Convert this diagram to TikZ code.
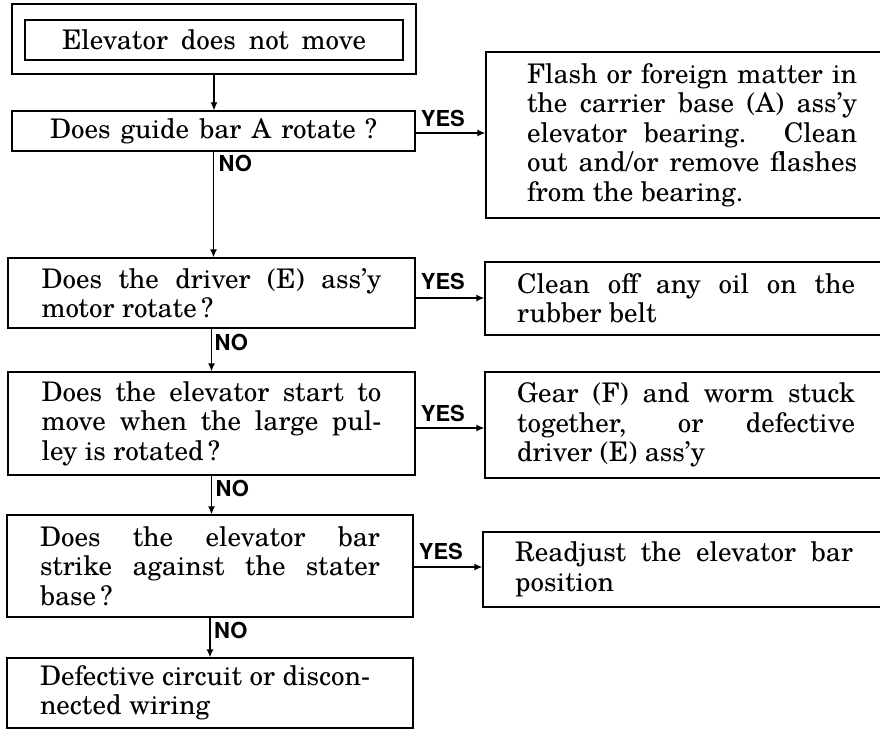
\documentclass[tikz,border=0pt]{standalone}
\usepackage{fontspec}
\setmainfont{TeX Gyre Schola}
\newfontfamily\labfont{TeX Gyre Heros}
\usetikzlibrary{arrows.meta}
\tikzset{
  box/.style={draw, line width=1.3pt, inner sep=0pt, font=\fontsize{27}{29.5}\selectfont},
  jbox/.style={box, align=justify},
  lab/.style={font=\labfont\bfseries\fontsize{22}{22}\selectfont, inner sep=0pt},
  conn/.style={line width=1.3pt, -{Latex[length=8pt,width=7pt]}},
}
\begin{document}
\begin{tikzpicture}[x=1pt,y=-1pt]
\useasboundingbox (0,0) rectangle (880,730);
\clip (0,0) rectangle (880,730);
% left column
\node[box, minimum width=404pt, minimum height=70pt] (frame) at (214,39) {};
\node[box, minimum width=378pt, minimum height=40pt] (start) at (214,40) {\makebox[304pt][s]{Elevator does not move}};
\node[box, minimum width=403pt, minimum height=40pt] (q1) at (213.5,131) {\makebox[327pt][s]{Does guide bar A rotate\,\,?}};
\node[jbox, minimum width=407pt, minimum height=70pt, text width=340pt] (q2) at (211.5,293)
  {Does the driver (E) ass’y\linebreak motor rotate\,?};
\node[jbox, minimum width=407pt, minimum height=103pt, text width=340pt] (q3) at (211.5,423.5)
  {Does the elevator start to\linebreak move when the large pul-\linebreak ley is rotated\,?};
\node[jbox, minimum width=406pt, minimum height=102pt, text width=340pt] (q4) at (210,566)
  {Does the elevator bar\linebreak strike against the stater\linebreak base\,?};
\node[jbox, minimum width=406pt, minimum height=70pt, text width=340pt] (end) at (210,693)
  {Defective circuit or discon-\\nected wiring};
% right column
\node[jbox, minimum width=412pt, minimum height=166pt, text width=330pt] (r1) at (692,135)
  {Flash or foreign matter in\linebreak the carrier base (A) ass’y\linebreak elevator bearing. Clean\linebreak out and/or remove flashes\linebreak from the bearing.};
\node[jbox, minimum width=402pt, minimum height=73pt, text width=338pt] (r2) at (686,298.5)
  {Clean off any oil on the\linebreak rubber belt};
\node[jbox, minimum width=402pt, minimum height=106pt, text width=338pt] (r3) at (686,425)
  {Gear (F) and worm stuck\linebreak together, or defective\linebreak driver (E) ass’y};
\node[jbox, minimum width=402pt, minimum height=75pt, text width=338pt] (r4) at (684,569.5)
  {Readjust the elevator bar\linebreak position};
% NO connectors
\draw[conn] (frame.south) -- (frame.south |- q1.north);
\draw[conn] (q1.south) -- (q1.south |- q2.north);
\draw[conn] (q2.south) -- (q2.south |- q3.north);
\draw[conn] (q3.south) -- (q3.south |- q4.north);
\draw[conn] (q4.south) -- (q4.south |- end.north);
\node[lab, anchor=north west] (n1) at ([xshift=5pt,yshift=-3pt]q1.south) {NO};
\node[lab, anchor=north west] (n2) at ([xshift=3pt,yshift=-5pt]q2.south) {NO};
\node[lab, anchor=north west] (n3) at ([xshift=4pt,yshift=-4pt]q3.south) {NO};
\node[lab, anchor=north west] (n4) at ([xshift=4pt,yshift=-4pt]q4.south) {NO};
% YES connectors
\coordinate (a1) at ([yshift=-2pt]q1.east);
\coordinate (a2) at ([yshift=-5pt]q2.east);
\coordinate (a3) at ([yshift=-4.5pt]q3.east);
\coordinate (a4) at ([yshift=-1pt]q4.east);
\draw[conn] (a1) -- (a1 -| r1.west);
\draw[conn] (a2) -- (a2 -| r2.west);
\draw[conn] (a3) -- (a3 -| r3.west);
\draw[conn] (a4) -- (a4 -| r4.west);
\node[lab, anchor=south west] (y1) at ([xshift=5pt,yshift=6pt]a1) {YES};
\node[lab, anchor=south west] (y2) at ([xshift=5pt,yshift=8pt]a2) {YES};
\node[lab, anchor=south west] (y3) at ([xshift=5pt,yshift=6pt]a3) {YES};
\node[lab, anchor=south west] (y4) at ([xshift=5pt,yshift=7pt]a4) {YES};
\end{tikzpicture}
\end{document}
